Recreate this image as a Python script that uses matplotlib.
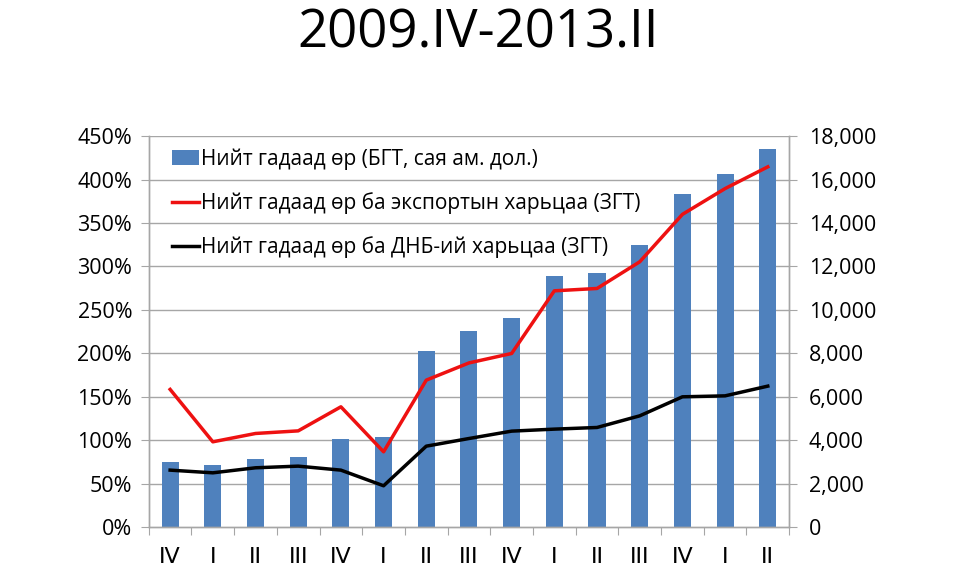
import matplotlib
matplotlib.use("Agg")
import matplotlib.pyplot as plt
import numpy as np
from matplotlib.ticker import FuncFormatter, FixedLocator

plt.rcParams['font.family'] = ['Open Sans', 'DejaVu Sans']

categories = ["IV", "I", "II", "III", "IV", "I", "II", "III", "IV", "I", "II", "III", "IV", "I", "II"]
debt_musd = [3000, 2850, 3130, 3240, 4040, 4160, 8120, 9020, 9620, 11570, 11680, 13010, 15330, 16240, 17390]
debt_to_exports = [158.5, 98.2, 107.8, 110.8, 138.5, 86.7, 169.2, 189.0, 199.9, 272.0, 274.7, 305.4, 360.0, 389.7, 414.7]
debt_to_gdp = [65.6, 62.5, 68.3, 70.2, 65.6, 47.6, 93.2, 102.0, 110.5, 112.8, 114.7, 128.1, 150.0, 151.1, 162.3]

label_bar = "Нийт гадаад өр (БГТ, сая ам. дол.)"
label_red = "Нийт гадаад өр ба экспортын харьцаа (ЗГТ)"
label_black = "Нийт гадаад өр ба ДНБ-ий харьцаа (ЗГТ)"
title = "2009.IV-2013.II"

fig = plt.figure(figsize=(9.6, 5.87), dpi=100)
ax = fig.add_axes([0.155, 0.102, 0.667, 0.666])
ax2 = ax.twinx()

x = np.arange(len(categories))
grid_c = "#A6A6A6"

# bars on right axis
bars = ax2.bar(x, debt_musd, width=0.4, color="#4F81BD", zorder=2, label=label_bar)
ax2.set_ylim(0, 18000)
ax2.yaxis.set_major_locator(FixedLocator(np.arange(0, 18001, 2000)))
ax2.yaxis.set_major_formatter(FuncFormatter(lambda v, p: f"{int(v):,}"))

# lines on left axis (draw on top)
ax.set_zorder(ax2.get_zorder() + 1)
ax.patch.set_visible(False)
l1, = ax.plot(x, debt_to_exports, color="#EE1111", lw=2.5, zorder=3, label=label_red)
l2, = ax.plot(x, debt_to_gdp, color="black", lw=2.5, zorder=3, label=label_black)
ax.set_ylim(0, 450)
ax.yaxis.set_major_locator(FixedLocator(np.arange(0, 451, 50)))
ax.yaxis.set_major_formatter(FuncFormatter(lambda v, p: f"{int(v)}%"))
ax.set_xlim(-0.5, len(categories) - 0.5)

# gridlines drawn on bar axis (behind bars)
for gv in np.arange(2000, 18001, 2000):
    ax2.axhline(gv, color=grid_c, lw=1, zorder=0)

# x ticks between categories
ax.set_xticks(np.arange(-0.5, len(categories), 1.0), minor=False)
ax.set_xticklabels([])
ax.set_xticks(x, minor=True)
ax.set_xticklabels(categories, minor=True, fontsize=16, family=['Liberation Sans Narrow', 'DejaVu Sans'])
ax.tick_params(axis='x', which='minor', length=0, pad=14)
ax.tick_params(axis='x', which='major', length=6, color=grid_c, direction='out')
ax.tick_params(axis='y', length=6, color=grid_c, labelsize=15.5, pad=6)
ax2.tick_params(axis='y', length=6, color=grid_c, labelsize=15.5, pad=8)
ax2.tick_params(axis='x', length=0)

for a in (ax, ax2):
    a.spines['top'].set_visible(False)
    for s in ('left', 'right', 'bottom'):
        a.spines[s].set_color(grid_c)
        a.spines[s].set_linewidth(1)

leg = ax.legend([bars, l1, l2], [label_bar, label_red, label_black],
                loc='upper left', bbox_to_anchor=(0.023, 0.99), frameon=False,
                fontsize=15, handlelength=1.3, handletextpad=0.1, labelspacing=1.07,
                borderaxespad=0.0)

fig.text(0.498, 0.942, title, ha='center', va='center', fontsize=38)

fig.savefig("out.png", dpi=100)
